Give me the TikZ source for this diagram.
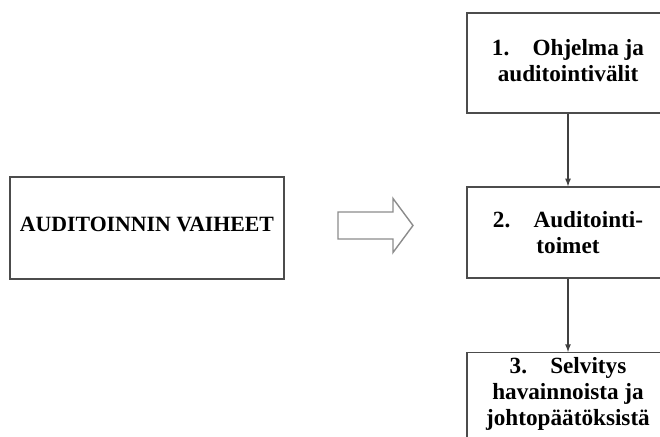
\documentclass[tikz,border=0pt]{standalone}
\usepackage{fontspec}
\setmainfont{Liberation Serif}
\usetikzlibrary{shapes,arrows,positioning}

\begin{document}
\begin{tikzpicture}[every node/.style={font=\fontsize{16.5}{18.5}\selectfont\bfseries}]
\tikzset{box/.style={draw=black!70, line width=0.9pt, align=center, inner sep=2pt}}
\useasboundingbox (0,0) rectangle (16.5,10.925);

% Left box
\node[box, minimum width=6.85cm, minimum height=2.55cm,
  font=\fontsize{15.5}{18}\selectfont\bfseries] (vaiheet) at (3.675,5.225)
  {\raisebox{0.18cm}{AUDITOINNIN VAIHEET}};

% Block arrow
\draw[draw=black!45, line width=1pt]
  (8.45,4.95) -- (9.825,4.95) -- (9.825,4.6125) -- (10.325,5.2875)
  -- (9.825,5.9625) -- (9.825,5.625) -- (8.45,5.625) -- cycle;

% Phases
\node[box, minimum width=5.05cm, minimum height=2.5cm] (ohjelma) at (14.2,9.35)
  {\raisebox{0.18cm}{\begin{tabular}{@{}c@{}}1.\quad Ohjelma ja\\auditointivälit\end{tabular}}};
\node[box, minimum width=5.05cm, minimum height=2.275cm] (toimet) at (14.2,5.1125)
  {2.\quad Auditointi-\\toimet};
\node[box, minimum width=5.05cm, minimum height=2.6cm, anchor=north] (selvitys) at (14.2,2.125) {};
\node[align=center, below=0pt of selvitys.north] (selvitysteksti)
  {3.\quad Selvitys\\havainnoista ja\\johtopäätöksistä};

% Connectors
\draw[-latex, draw=black!75, line width=0.9pt] (ohjelma) -- (toimet);
\draw[-latex, draw=black!75, line width=0.9pt] (toimet) -- (selvitys);
\end{tikzpicture}
\end{document}
